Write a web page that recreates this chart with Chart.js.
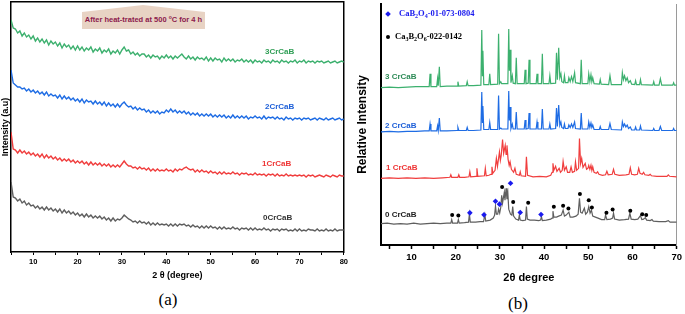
<!DOCTYPE html>
<html lang="en">
<head>
    <meta charset="UTF-8">
    <title>XRD patterns</title>
    <script src="https://cdn.jsdelivr.net/npm/chart.js"></script>
    <style>
        body { margin: 0; background: #fff; width: 685px; height: 314px; overflow: hidden; position: relative; font-family: Arial, "Liberation Sans", sans-serif; }
        canvas { position: absolute; top: 0; }
        .lbl { position: absolute; font-weight: bold; white-space: nowrap; transform: translateY(-50%); line-height: 1; }
        .cap { position: absolute; font-family: "Liberation Serif", "Times New Roman", serif; font-size: 17px; transform: translate(-50%, -50%); }
        .note { position: absolute; left: 82px; top: 5px; width: 123px; height: 24px; background: #e8d3c4;
                clip-path: polygon(0 7px, 61px 0, 123px 7px, 123px 24px, 0 24px); }
        .note span { position: absolute; left: 0; right: 0; top: 14px; text-align: center; transform: translateY(-50%);
                     font-size: 7.5px; font-weight: bold; color: #8c1a4c; white-space: nowrap; line-height: 1; }
        .leg { position: absolute; font-family: "Liberation Serif", "Times New Roman", serif; font-weight: bold; font-size: 8.5px; white-space: nowrap; transform: translateY(-50%); line-height: 1; }
        .leg sub { font-size: 6px; vertical-align: -2px; }
    </style>
</head>
<body>
    <canvas id="chart-a" width="350" height="290" style="left:0"></canvas>
    <canvas id="chart-b" width="335" height="290" style="left:350px"></canvas>

    <div class="note"><span>After heat-trated at 500 <sup style="font-size:5px">o</sup>C for 4 h</span></div>

    <div class="lbl" style="left:265px;top:52px;font-size:8px;color:#2f9e55">3CrCaB</div>
    <div class="lbl" style="left:265px;top:107px;font-size:8px;color:#1d5fd8">2CrCaB</div>
    <div class="lbl" style="left:262px;top:164px;font-size:8px;color:#ee3535">1CrCaB</div>
    <div class="lbl" style="left:263px;top:218px;font-size:8px;color:#333">0CrCaB</div>

    <div class="lbl" style="left:385px;top:77px;font-size:8px;color:#2e8b57">3 CrCaB</div>
    <div class="lbl" style="left:385px;top:126px;font-size:8px;color:#1d5fd8">2 CrCaB</div>
    <div class="lbl" style="left:386px;top:168px;font-size:8px;color:#ee3535">1 CrCaB</div>
    <div class="lbl" style="left:385px;top:215px;font-size:8px;color:#222">0 CrCaB</div>

    <div style="position:absolute;left:386px;top:12px;width:4px;height:4px;background:#1a1aee;transform:rotate(45deg)"></div>
    <div class="leg" style="left:399px;top:14px;color:#1a1aee">CaB<sub>2</sub>O<sub>4</sub>-01-073-0804</div>
    <div style="position:absolute;left:386px;top:35px;width:4px;height:4px;border-radius:50%;background:#000"></div>
    <div class="leg" style="left:395px;top:37px;color:#000">Ca<sub>3</sub>B<sub>2</sub>O<sub>6</sub>-022-0142</div>

    <div class="cap" style="left:168px;top:300px">(a)</div>
    <div class="cap" style="left:518px;top:304px">(b)</div>

    <script>
        // ---- panel (a): heat-treated samples, 2theta 5-80 step 0.5 ----
        const angleA = [
            5,5.5,6,6.5,7,7.5,8,8.5,9,9.5,
            10,10.5,11,11.5,12,12.5,13,13.5,14,14.5,
            15,15.5,16,16.5,17,17.5,18,18.5,19,19.5,
            20,20.5,21,21.5,22,22.5,23,23.5,24,24.5,
            25,25.5,26,26.5,27,27.5,28,28.5,29,29.5,
            30,30.5,31,31.5,32,32.5,33,33.5,34,34.5,
            35,35.5,36,36.5,37,37.5,38,38.5,39,39.5,
            40,40.5,41,41.5,42,42.5,43,43.5,44,44.5,
            45,45.5,46,46.5,47,47.5,48,48.5,49,49.5,
            50,50.5,51,51.5,52,52.5,53,53.5,54,54.5,
            55,55.5,56,56.5,57,57.5,58,58.5,59,59.5,
            60,60.5,61,61.5,62,62.5,63,63.5,64,64.5,
            65,65.5,66,66.5,67,67.5,68,68.5,69,69.5,
            70,70.5,71,71.5,72,72.5,73,73.5,74,74.5,
            75,75.5,76,76.5,77,77.5,78,78.5,79,79.5,
            80];
        const crCaB3A = [
            232,224,223,219,221,216,219,215,217,213,
            216,211,214,210,213,209,212,207,211,208,
            210,206,209,204,208,205,207,203,206,202,
            206,202,205,201,204,202,205,200,203,201,
            204,199,202,200,203,198,201,199,202,198,
            202,205,201,202,198,200,197,199,196,198,
            198,195,197,194,197,195,196,193,196,194,
            197,194,196,193,196,194,196,198,195,193,
            196,193,195,192,195,193,194,192,195,191,
            194,191,194,192,193,190,194,191,193,191,
            193,190,192,191,193,190,192,190,192,189,
            192,190,191,189,192,190,191,189,192,190,
            191,189,192,190,191,189,191,190,192,189,
            191,190,192,189,191,190,191,189,191,190,
            191,189,190,191,189,190,191,189,190,191,
            190];
        const crCaB2A = [
            182,169,167,165,165,163,164,161,163,160,
            162,159,161,158,160,157,160,156,158,156,
            157,154,157,153,156,153,155,152,154,151,
            153,150,153,149,152,150,151,148,151,148,
            150,147,150,146,149,146,148,145,148,145,
            148,150,147,145,146,143,145,142,144,142,
            143,140,142,139,141,139,141,138,140,139,
            142,140,143,140,142,139,141,139,141,138,
            140,137,139,137,139,136,138,136,138,136,
            138,135,137,135,137,135,137,134,136,134,
            137,134,136,134,136,134,136,133,135,134,
            136,134,135,133,136,133,135,134,135,133,
            135,133,134,132,135,133,134,132,134,133,
            134,132,134,133,134,132,133,134,132,134,
            133,132,134,132,133,134,132,133,134,132,
            133];
        const crCaB1A = [
            120,103,102,99,102,99,101,98,100,97,
            99,96,98,95,98,94,97,94,96,93,
            95,92,94,91,93,91,93,90,92,89,
            91,89,91,88,90,87,90,87,89,87,
            89,86,88,86,88,85,87,85,87,85,
            88,91,88,86,86,84,85,83,85,83,
            84,82,84,81,83,81,83,81,82,81,
            83,81,82,80,83,81,83,82,84,85,
            83,82,83,80,82,80,82,80,81,79,
            81,79,80,78,80,78,80,78,79,78,
            80,78,79,77,79,78,79,77,78,77,
            79,77,78,77,78,76,78,77,78,76,
            78,76,77,76,78,76,77,76,77,76,
            77,76,77,75,77,76,77,75,76,77,
            76,75,77,76,75,77,76,75,77,76,
            76];
        const crCaB0A = [
            70,55,54,51,53,49,51,47,49,46,
            47,44,46,43,45,42,45,42,44,41,
            43,40,43,39,42,39,41,38,40,37,
            39,36,38,35,38,35,37,34,36,34,
            36,33,35,32,34,31,34,31,33,32,
            34,37,35,33,32,30,31,29,31,29,
            30,28,30,27,29,27,29,27,28,27,
            28,26,28,26,28,26,28,27,28,26,
            27,25,27,25,26,24,26,24,26,24,
            26,24,25,23,25,23,25,23,24,23,
            25,23,24,22,24,23,24,22,24,22,
            24,22,23,22,24,22,23,21,23,22,
            23,21,23,22,23,21,22,21,23,21,
            23,21,22,21,23,22,22,21,23,21,
            22,21,23,21,22,21,23,21,22,22,
            22];

        // ---- panel (b): [2theta, intensity] ----
        const crCaB3B = [
            [3.1,158],[5,158.5],[7,158],[9,158.5],[11,159],[13,159],
            [14.0,159],[14.2,172],[14.4,159],
            [15.7,159],[15.9,167],[16.05,160],[16.3,179],[16.5,159],
            [18,159.5],[20.3,159.5],[20.5,164],[20.7,159.5],
            [22.4,160],[22.6,164],[22.8,160],
            [24,160],[25.7,160.5],[25.9,216],[26.05,170],[26.15,195],[26.35,161],
            [27.5,161],[27.7,172],[27.9,161],
            [29.5,161.5],[29.7,212],[29.9,162],[30.2,164],[30.4,162],
            [31.8,162],[32.0,217],[32.15,175],[32.3,196],[32.5,163],[32.8,170],[33.0,162.5],
            [33.5,162],[33.7,188],[33.9,162],
            [35.5,162],[35.7,176],[35.9,162],[36.4,162.5],[36.6,186],[36.8,162],
            [38.2,162],[38.4,172],[38.6,162],[39.4,162],[39.6,192],[39.8,162],
            [41.1,162],[41.3,170],[41.5,162],[42.6,162.5],[42.8,193],[43.0,166],[43.3,198],[43.55,168],[43.8,172],[44.0,164],
            [44.4,163],[44.6,170],[44.8,163],[45.4,163],[45.6,168],[45.9,164],[46.2,169],[46.5,164],[46.9,173],[47.1,163],
            [48.2,162],[48.4,186],[48.6,162],
            [49.9,162],[50.1,172],[50.35,164],[50.6,171],[50.8,164],[51.0,168],[51.3,162],
            [52.5,161.5],[52.7,166],[52.9,161.5],
            [54.6,161],[54.9,170],[55.2,161],
            [57.5,161],[57.7,173],[57.95,166],[58.2,170],[58.5,165],[58.8,168],[59.1,163],[59.5,165],[59.8,161.5],
            [60.5,161],[60.7,165],[60.9,161],[61.6,161],[61.8,166],[62.0,161],
            [64.6,160.5],[64.8,164],[65.0,160.5],[66.0,160.5],[66.3,167],[66.6,160.5],
            [69.1,160.5],[69.3,163],[69.5,160.5],[70,160.5]];
        const crCaB2B = [
            [3.1,113.5],[5,114],[7,113.5],[9,114],[11,114],[13,114.5],
            [14.0,114.5],[14.2,121.5],[14.4,114.5],
            [15.7,114.5],[15.9,119.5],[16.05,115],[16.3,127.5],[16.5,114.5],
            [18,114.5],[20.3,115],[20.5,118],[20.7,115],
            [22.4,115],[22.6,118],[22.8,115],
            [24,115],[25.7,115.5],[25.9,153.5],[26.05,123],[26.15,139.5],[26.35,116],
            [27.5,116],[27.7,123],[27.9,116],
            [29.5,116],[29.7,150],[29.9,116.5],[30.2,117.5],[30.4,116.5],
            [31.8,116.5],[32.0,154.5],[32.15,125],[32.3,138.5],[32.5,117],[32.8,121.5],[33.0,116.5],
            [33.5,116.5],[33.7,133.5],[33.9,116.5],
            [35.5,116.5],[35.7,125.5],[35.9,116.5],[36.4,117],[36.6,132.5],[36.8,116.5],
            [38.2,116.5],[38.4,123.5],[38.6,116.5],[39.4,116.5],[39.6,136.5],[39.8,116.5],
            [41.1,116.5],[41.3,121.5],[41.5,116.5],[42.6,117],[42.8,137.5],[43.0,119],[43.3,140.5],[43.55,120],[43.8,123.5],[44.0,118],
            [44.4,117],[44.6,121.5],[44.8,117],[45.4,117],[45.6,120.5],[45.9,118],[46.2,121.5],[46.5,118],[46.9,123.5],[47.1,117],
            [48.2,116.5],[48.4,132.5],[48.6,116.5],
            [49.9,116.5],[50.1,123.5],[50.35,118],[50.6,122.5],[50.8,118],[51.0,120.5],[51.3,116],
            [52.5,116],[52.7,119],[52.9,116],
            [54.6,116],[54.9,122],[55.2,116],
            [57.5,115.5],[57.7,123.5],[57.95,119],[58.2,121.5],[58.5,118.5],[58.8,120.5],[59.1,117],[59.5,118.5],[59.8,115.5],
            [60.5,115.5],[60.7,118.5],[60.9,115.5],[61.6,115.5],[61.8,119.5],[62.0,115.5],
            [64.6,115],[64.8,117],[65.0,115],[66.0,115],[66.3,119],[66.6,115],
            [69.1,115],[69.3,117],[69.5,115],[70,115]];
        const crCaB1B = [
            [3.1,67],[5,67.5],[7,67],[9,67.5],[11,67],[13,67.5],[15,67],[17,67.5],
            [18.7,68],[18.9,70.5],[19.1,68],[20.5,68],[20.7,70.5],[20.9,68],
            [22,68],[23.0,68.5],[23.2,73.5],[23.4,68.5],[24.6,69],[24.8,77],[25.0,69],
            [26.5,69.5],[26.7,77],[26.9,69.5],[27.5,70],[28.0,71],[28.2,78.5],[28.4,72],
            [28.9,75],[29.2,87],[29.45,79],[29.9,93.5],[30.1,85],[30.3,90],[30.6,106],[30.85,92],[31.2,100],[31.4,91],[31.6,100],[31.85,86],
            [32.1,80],[32.3,83.5],[32.6,76],[33.1,73],[33.4,77],[33.7,71],
            [34.4,70],[34.6,73.5],[34.8,69.5],[35.8,69],[36.0,88.5],[36.25,70],
            [37.5,68.5],[39,69],[40.5,68.5],[41.5,70],
            [41.8,73],[42.0,82],[42.2,75],[42.6,79],[42.9,74],[43.4,77],[43.7,73],[44.1,75],[44.3,84],[44.6,75],[45.0,78.5],[45.3,73],
            [45.8,73],[46.1,78.5],[46.4,73],[46.9,74],[47.1,83.5],[47.35,75],[47.8,77],[48.0,107],[48.25,82],[48.5,87],[48.8,78],[49.3,82],[49.6,76],
            [49.9,77],[50.1,80],[50.35,76],[50.6,80],[50.8,75],[51.0,78.5],[51.3,73],[51.8,72],[52.1,73.5],[52.4,71],
            [53.2,70],[53.9,70.5],[54.2,74],[54.5,70.5],[55.4,71],[55.7,76],[56.0,71],
            [57,70],[58.5,70.5],[59.2,71],[59.5,77.5],[59.8,71],[60.5,70.5],[61.1,71],[61.4,77],[61.7,72],[62.2,71],[62.5,73],[62.8,70.5],
            [63.7,70],[64.0,71],[64.3,69.5],[65.5,69],[67,69],[67.8,69],[68.1,70.5],[68.4,69],[70,68.5]];
        const crCaB0B = [
            [3.1,21.5],[4.5,22],[6,21],[7.5,21.5],[9,21],[10.5,22],[12,21],[13.5,21.5],[15,22],[16.5,21.5],[18,22],
            [18.9,22],[19.1,25.5],[19.3,22],[20.4,22],[20.6,25.5],[20.8,22],[22,22.5],
            [22.9,23],[23.1,31],[23.3,23],[24.5,23],[25.5,23.5],[26.3,23.5],[26.6,30.5],[26.8,24],[27.8,25],[28.5,27],
            [28.8,30],[29.0,39],[29.2,31],[29.5,31],[29.7,36],[29.95,32],[30.2,38],[30.4,50],[30.6,42],[31.0,53],[31.15,45],[31.4,57],[31.6,46],[31.8,52],[32.0,36],
            [32.4,31],[32.7,30],[32.9,38.5],[33.1,29],[33.6,26],[34.2,25],[34.4,30],[34.6,25],[35.2,24.5],[35.8,25],[36.0,38.5],[36.2,26],
            [36.8,25],[37.8,25],[38.8,24.5],[39.2,25],[39.4,28.5],[39.6,24.5],[40.5,25],[41.5,26],
            [41.8,27],[42.0,34],[42.2,28],[42.8,28],[43.3,29],[43.9,30],[44.3,35],[44.6,29],[45.0,30],[45.6,33],[45.9,28],[46.5,28],[47.2,29],[47.7,31],
            [48.0,47],[48.25,33],[48.6,32],[49.1,37],[49.4,31],[49.8,33],[50.1,38.5],[50.4,32],[50.7,35],[51.0,29],[51.6,28],[52.2,27],[53.0,25.5],
            [53.7,25.5],[53.9,30],[54.2,25.5],[55.0,26],[55.5,27],[55.7,32],[55.95,26],[57,25],[58.2,25.5],[59.1,26],[59.4,32],[59.7,26],[60.5,25.5],
            [61.2,26],[61.8,29.5],[62.1,25.5],[62.5,26],[62.9,27.5],[63.2,25],[64.0,24.5],[64.4,25.5],[64.7,24],[66,23.5],[67.5,23.5],[68.1,24.5],[68.5,23],[70,23]];

        // phase markers over the 0 CrCaB pattern
        const ca3b2o6Marks = [
            [19.2,30],[20.6,29.7],[30.5,58.3],[33.0,43.3],[36.4,42.3],[42.2,38.3],[44.3,39.3],[45.5,36.7],
            [48.1,51.3],[50.1,45],[50.8,37.7],[54.1,32.3],[55.5,35.7],[59.5,34.3],[62.2,31],[63.1,30]];
        const cab2o4Marks = [
            [23.2,32.3],[26.4,30.3],[29.0,44],[29.9,41],[32.4,62],[34.6,32.7],[39.3,30.7]];

        const GREEN = 'rgb(60,176,110)';
        const BLUE = 'rgb(30,108,228)';
        const RED = 'rgb(240,62,62)';
        const GREY = 'rgb(95,95,95)';
        const FONT = 'Arial, "Liberation Sans", sans-serif';

        const toXY = (arr) => arr.map(([x, y]) => ({x, y}));
        const pairUp = (ys) => ys.map((y, i) => ({x: angleA[i], y}));

        function lineSet(data, color, width) {
            return { data, borderColor: color, borderWidth: width, pointRadius: 0, tension: 0, fill: false };
        }

        // fixed axis sizes so the plot areas land where the figure has them
        const fixW = (w) => (s) => { s.width = w; };
        const fixH = (h) => (s) => { s.height = h; };
        const hiddenEdge = (pos, color, width, fit) => ({
            type: 'linear', position: pos, display: true,
            ticks: { display: false }, grid: { display: false, drawTicks: false },
            border: { display: true, color, width }, afterFit: fit
        });

        // Panel (a)
        new Chart(document.getElementById('chart-a'), {
            type: 'line',
            data: {
                datasets: [
                    lineSet(pairUp(crCaB3A), GREEN, 1.4),
                    lineSet(pairUp(crCaB2A), BLUE, 1.4),
                    lineSet(pairUp(crCaB1A), RED, 1.4),
                    lineSet(pairUp(crCaB0A), GREY, 1.4)
                ]
            },
            options: {
                responsive: false,
                animation: false,
                devicePixelRatio: 1,
                layout: { padding: { left: 0, right: 6, top: 2, bottom: 0 } },
                plugins: { legend: { display: false }, tooltip: { enabled: false } },
                scales: {
                    x: {
                        type: 'linear', position: 'bottom', min: 5, max: 80,
                        ticks: { stepSize: 5, autoSkip: false, maxRotation: 0, padding: 2, color: '#000',
                                 font: { family: FONT, size: 7.5, weight: 'bold' },
                                 callback: (v) => (v % 10 === 0 ? v : '') },
                        grid: { drawOnChartArea: false, drawTicks: true, tickLength: 3, tickColor: '#000', tickWidth: 1 },
                        border: { color: '#000', width: 1.5 },
                        title: { display: true, text: '2 θ (degree)', color: '#000',
                                 font: { family: FONT, size: 9, weight: 'bold' }, padding: { top: 0, bottom: 9 } },
                        afterFit: fixH(38)
                    },
                    y: {
                        type: 'linear', position: 'left', min: 0, max: 250,
                        ticks: { display: false }, grid: { display: false, drawTicks: false },
                        border: { color: '#000', width: 1.5 },
                        title: { display: true, text: 'Intensity (a.u)', color: '#000',
                                 font: { family: FONT, size: 9, weight: 'bold' }, padding: { top: 0, bottom: 0 } },
                        afterFit: fixW(11)
                    },
                    xTop: hiddenEdge('top', '#000', 1.5, fixH(0)),
                    yRight: hiddenEdge('right', '#000', 1.5, fixW(0))
                }
            }
        });

        // Panel (b)
        new Chart(document.getElementById('chart-b'), {
            type: 'line',
            data: {
                datasets: [
                    { type: 'scatter', data: toXY(ca3b2o6Marks), pointStyle: 'circle', pointRadius: 2,
                      backgroundColor: '#000', borderColor: '#000', borderWidth: 0 },
                    { type: 'scatter', data: toXY(cab2o4Marks), pointStyle: 'rectRot', pointRadius: 2.8,
                      backgroundColor: '#1a1aee', borderColor: '#1a1aee', borderWidth: 0 },
                    lineSet(toXY(crCaB3B), GREEN, 1.2),
                    lineSet(toXY(crCaB2B), BLUE, 1.2),
                    lineSet(toXY(crCaB1B), RED, 1.2),
                    lineSet(toXY(crCaB0B), GREY, 1.2)
                ]
            },
            options: {
                responsive: false,
                animation: false,
                devicePixelRatio: 1,
                layout: { padding: { left: 0, right: 5, top: 3, bottom: 0 } },
                plugins: { legend: { display: false }, tooltip: { enabled: false } },
                scales: {
                    x: {
                        type: 'linear', position: 'bottom', min: 3.1, max: 70,
                        ticks: { stepSize: 5, includeBounds: false, autoSkip: false, maxRotation: 0, padding: 3, color: '#000',
                                 font: { family: FONT, size: 9.5, weight: 'bold' },
                                 callback: (v) => (v % 10 === 0 ? v : '') },
                        grid: { drawOnChartArea: false, drawTicks: true, tickLength: 4, tickColor: '#000', tickWidth: 1.5 },
                        border: { color: '#000', width: 2 },
                        title: { display: true, text: '2θ degree', color: '#000',
                                 font: { family: FONT, size: 11, weight: 'bold' }, padding: { top: 0, bottom: 5 } },
                        afterFit: fixH(45)
                    },
                    y: {
                        type: 'linear', position: 'left', min: 0, max: 242,
                        ticks: { display: false }, grid: { display: false, drawTicks: false },
                        border: { color: '#000', width: 2 },
                        title: { display: true, text: 'Relative Intensity', color: '#000',
                                 font: { family: FONT, size: 12, weight: 'bold' }, padding: { top: 5, bottom: 0 } },
                        afterFit: fixW(31)
                    },
                    yRight: hiddenEdge('right', '#9a9a9a', 1, fixW(0))
                }
            }
        });
    </script>
</body>
</html>
